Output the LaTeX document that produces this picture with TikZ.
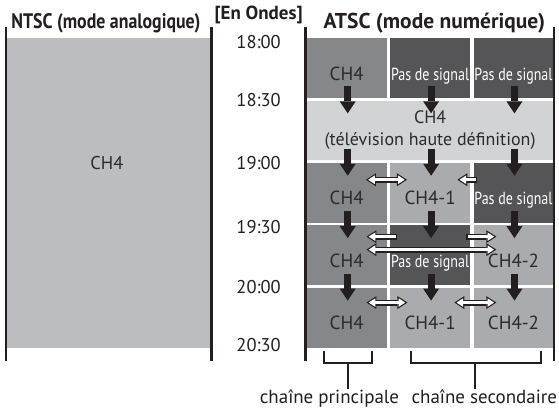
\documentclass[tikz,border=0pt]{standalone}
\usepackage{fontspec}
\setmainfont{PT Sans}
\newfontfamily\narrowfont[FakeStretch=0.85]{PT Sans}
\newfontfamily\condfont[FakeStretch=0.8]{PT Sans}
\usepackage{xcolor}
\usepackage{tikz}
\usetikzlibrary{arrows.meta, calc}

\definecolor{ntscfill}{HTML}{BCBDC0}
\definecolor{midfill}{HTML}{86878A}
\definecolor{darkfill}{HTML}{555557}
\definecolor{subfill}{HTML}{AAABAE}
\definecolor{hdfill}{HTML}{D2D3D5}
\definecolor{ink}{HTML}{231F20}
\definecolor{cellink}{HTML}{2B2B2D}

\begin{document}
\begin{tikzpicture}[
    x=1pt, y=-1pt,
    cell/.style={anchor=north west, inner sep=0pt, minimum width=80pt, minimum height=60pt,
                 font=\fontsize{19}{20}\selectfont, text=cellink, text height=24pt, text depth=0pt},
    chmain/.style={cell, fill=midfill},
    chsub/.style={cell, fill=subfill},
    nosig/.style={cell, fill=darkfill, text=white, font=\condfont\fontsize{17.5}{20}\selectfont},
    hdcell/.style={anchor=north west, inner sep=0pt, minimum width=247pt, minimum height=60pt,
                   fill=hdfill, text=cellink, align=center, font=\fontsize{18}{22}\selectfont},
    ntscbox/.style={anchor=north west, inner sep=0pt, minimum width=204pt, minimum height=310pt,
                    fill=ntscfill},
    head/.style={text=ink, font=\bfseries\fontsize{21.5}{22}\selectfont, inner sep=0pt},
    time/.style={text=ink, font=\fontsize{18.5}{20}\selectfont, inner sep=0pt},
    foot/.style={text=ink, font=\fontsize{19}{20}\selectfont, inner sep=2pt,
                 text height=13pt, text depth=4pt},
    sep/.style={draw=ink, line width=2.5pt},
    brk/.style={draw=ink, line width=2pt},
    down/.style={draw=ink, line width=7pt, -{Triangle[width=16pt, length=12pt, line width=0pt]}},
    wone/.style={draw=ink, line width=6pt, -{Triangle[width=13pt, length=10pt, line width=0pt]},
                 postaction={draw=white, line width=3.4pt,
                             -{Triangle[width=8.6pt, length=6.6pt, line width=0pt]},
                             shorten >=2.2pt, shorten <=1.2pt}},
    wtwo/.style={draw=ink, line width=6pt,
                 {Triangle[width=13pt, length=10pt, line width=0pt]}-{Triangle[width=13pt, length=10pt, line width=0pt]},
                 postaction={draw=white, line width=3.4pt,
                             {Triangle[width=8.6pt, length=6.6pt, line width=0pt]}-{Triangle[width=8.6pt, length=6.6pt, line width=0pt]},
                             shorten >=2.2pt, shorten <=2.2pt}}
]
\fill[white] (0,0) rectangle (559,411);

% analog side
\node[ntscbox] (ntsc) at (7,38) {};
\node[time, text=cellink] (ntscch) at (107,163) {CH4};

\node[head, font=\narrowfont\bfseries\fontsize{21}{22}\selectfont] (ntschead) at (106,23) {NTSC (mode analogique)};
\node[head, font=\bfseries\fontsize{19}{22}\selectfont] (onair) at (259,15) {[En Ondes]};
\node[head] (atschead) at (435,23) {ATSC (mode numérique)};

% digital side
\node[chmain] (main1) at (307,38)      {CH4};
\node[nosig]  (subA1) at (390.5,38)    {Pas de signal};
\node[nosig]  (subB1) at (474,38)      {Pas de signal};
\node[hdcell] (hd)    at (307,100.5)   {CH4\\(télévision haute définition)};
\node[chmain] (main3) at (307,163)     {CH4};
\node[chsub]  (subA3) at (390.5,163)   {CH4-1};
\node[nosig]  (subB3) at (474,163)     {Pas de signal};
\node[chmain] (main4) at (307,225.5)   {CH4};
\node[nosig]  (subA4) at (390.5,225.5) {Pas de signal};
\node[chsub]  (subB4) at (474,225.5)   {CH4-2};
\node[chmain] (main5) at (307,288)     {CH4};
\node[chsub]  (subA5) at (390.5,288)   {CH4-1};
\node[chsub]  (subB5) at (474,288)     {CH4-2};

\foreach \x in {6, 212, 306, 555}
  \draw[sep] (\x,27) -- (\x,362);

\foreach \t/\y in {18:00/42, 18:30/100, 19:00/163, 19:30/227, 20:00/287, 20:30/346}
  \node[time] (time\y) at (259,\y) {\t};

% channel changes
\foreach \a/\b/\k in {main1/hd/main1, subA1/hd/subA1, subB1/hd/subB1,
                      hd/main3/main3, hd/subA3/subA3, hd/subB3/subB3,
                      main3/main4/main3, subA3/subA4/subA3, subB3/subB4/subB3,
                      main4/main5/main4, subA4/subA5/subA4, subB4/subB5/subB4}
  \draw[down] ($(\k.center |- \a.south)+(1,-12)$) -- ($(\k.center |- \b.north)+(1,13)$);

\draw[wtwo] ($(subA3.north west)+(-24,17)$)   -- ($(subA3.north west)+(17,17)$);
\draw[wone] ($(subB3.north west)+(4,17)$)     -- ($(subB3.north west)+(-16,17)$);
\draw[wone] ($(subA4.north west)+(7.5,11.5)$) -- ($(subA4.north west)+(-23.5,11.5)$);
\draw[wone] ($(subB4.north west)+(-7,11.5)$)  -- ($(subB4.north west)+(23,11.5)$);
\draw[wtwo] ($(subA4.north west)+(-23.5,24.5)$) -- ($(subB4.north west)+(23,24.5)$);
\draw[wtwo] ($(subA5.north west)+(-23.5,15)$) -- ($(subA5.north west)+(17.5,15)$);
\draw[wtwo] ($(subB5.north west)+(-19,15)$)   -- ($(subB5.north west)+(23,15)$);

% channel groups
\node[foot] (mainlbl) at (330,400) {chaîne principale};
\node[foot] (sublbl)  at (485,400) {chaîne secondaire};
\coordinate (mainbr) at (348,364);
\coordinate (subbr)  at (476,364);
\draw[brk] (324,352) |- (373,364) -- (373,352);
\draw[brk] (412,352) |- (542,364) -- (542,352);
\draw[brk] (mainbr) -- (mainbr |- mainlbl.north);
\draw[brk] (subbr) -- (subbr |- sublbl.north);
\end{tikzpicture}
\end{document}
